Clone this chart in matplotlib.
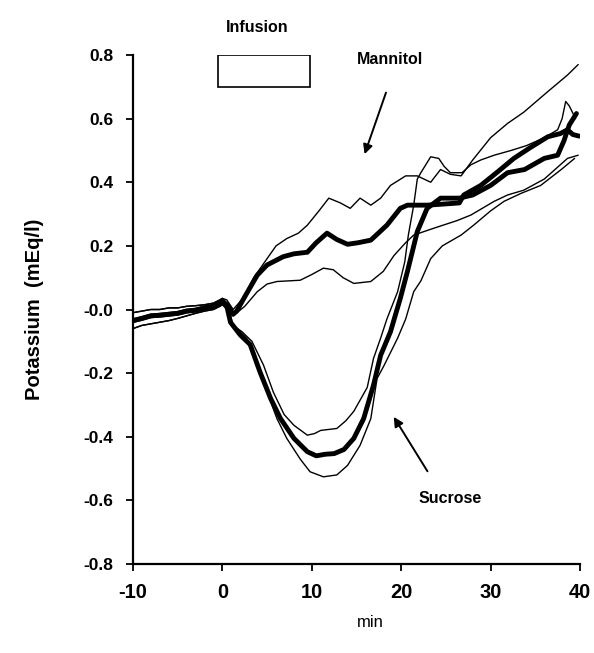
import numpy as np
import matplotlib
matplotlib.use('Agg')
from matplotlib import pyplot as plt
from matplotlib.patches import Rectangle

plt.rcParams['font.family'] = ['Liberation Sans', 'DejaVu Sans']

# pre-infusion baseline (min), shared by all six traces
base_t = [-10, -9, -8, -7, -6, -5, -4, -3, -2, -1, -0.3, 0]
base_up = [-0.01, -0.005, 0.0, 0.0, 0.005, 0.005, 0.01, 0.012, 0.015, 0.02, 0.03, 0.035]
base_mean = [-0.035, -0.028, -0.02, -0.018, -0.015, -0.012, -0.005, -0.002, 0.005, 0.01, 0.02, 0.025]
base_low = [-0.06, -0.05, -0.045, -0.04, -0.035, -0.028, -0.02, -0.012, -0.005, 0.0, 0.01, 0.015]

# Mannitol, mean and +/- SE
man_mean_t = [0.5, 1.2, 1.6, 2.5, 3.9, 5.0, 6.8, 8.0, 9.5, 10.5, 11.7, 12.8, 14.0, 15.2, 16.6, 18.4, 19.9, 20.7,
              22.9, 24.0, 26.5, 27.0, 28.9, 30.8, 32.6, 34.5, 36.4, 37.8, 38.6, 39.2, 39.9]
man_mean_k = [0.015, -0.015, -0.005, 0.04, 0.108, 0.14, 0.166, 0.175, 0.18, 0.21, 0.24, 0.22, 0.205, 0.21, 0.218,
              0.265, 0.318, 0.328, 0.328, 0.33, 0.335, 0.36, 0.39, 0.433, 0.475, 0.51, 0.543, 0.553, 0.565, 0.55, 0.545]
man_up_t = [0.5, 1.2, 2.3, 3.5, 5.0, 6.0, 7.2, 8.5, 9.5, 10.8, 11.9, 13.2, 14.3, 15.4, 16.6, 17.7, 18.8, 20.5,
            21.8, 23.3, 24.4, 25.5, 26.7, 28.0, 30.0, 31.9, 33.7, 36.4, 38.6, 39.8]
man_up_k = [0.03, 0.0, 0.035, 0.1, 0.16, 0.2, 0.223, 0.24, 0.265, 0.31, 0.35, 0.335, 0.318, 0.35, 0.328, 0.35,
            0.39, 0.42, 0.42, 0.40, 0.44, 0.425, 0.42, 0.47, 0.54, 0.585, 0.62, 0.685, 0.737, 0.77]
man_low_t = [0.5, 1.2, 2.5, 3.9, 5.0, 6.1, 8.7, 10.0, 11.3, 12.4, 13.5, 14.7, 16.6, 18.0, 19.2, 20.5, 21.4, 23.6,
             26.3, 27.8, 30.4, 31.9, 33.7, 36.0, 38.6, 39.8]
man_low_k = [0.01, -0.02, 0.01, 0.056, 0.08, 0.088, 0.092, 0.11, 0.13, 0.125, 0.1, 0.082, 0.088, 0.12, 0.17, 0.21,
             0.234, 0.255, 0.28, 0.297, 0.34, 0.36, 0.375, 0.41, 0.475, 0.485]

# Sucrose, mean and +/- SE
suc_mean_t = [0.5, 0.9, 2.0, 3.1, 4.2, 5.4, 6.5, 8.0, 9.5, 10.5, 11.5, 12.5, 13.6, 14.7, 15.8, 16.9, 17.7, 18.8,
              19.9, 20.7, 21.8, 22.9, 24.4, 26.5, 28.0, 30.0, 31.9, 33.8, 36.0, 37.5, 38.2, 38.8, 39.6]
suc_mean_k = [0.01, -0.04, -0.08, -0.11, -0.196, -0.28, -0.343, -0.405, -0.447, -0.46, -0.455, -0.453, -0.44,
              -0.405, -0.343, -0.238, -0.144, -0.07, 0.035, 0.12, 0.245, 0.318, 0.35, 0.35, 0.36, 0.39, 0.43, 0.44,
              0.475, 0.485, 0.53, 0.58, 0.616]
suc_up_t = [0.5, 1.2, 2.2, 3.3, 4.6, 5.7, 6.9, 8.0, 9.5, 10.3, 11.0, 12.8, 13.8, 14.7, 16.2, 16.9, 17.7, 18.4,
            19.6, 20.4, 20.8, 21.4, 21.8, 22.2, 23.3, 24.2, 24.8, 25.5, 26.8, 27.8, 28.9, 30.4, 32.3, 34.0, 36.0,
            37.5, 38.0, 38.4, 38.8, 39.5]
suc_up_k = [0.02, -0.05, -0.07, -0.1, -0.175, -0.26, -0.33, -0.364, -0.395, -0.39, -0.38, -0.374, -0.35, -0.32,
            -0.245, -0.154, -0.09, -0.03, 0.056, 0.15, 0.234, 0.328, 0.41, 0.43, 0.48, 0.475, 0.45, 0.43, 0.43,
            0.455, 0.47, 0.485, 0.50, 0.515, 0.54, 0.565, 0.6, 0.654, 0.64, 0.60]
suc_low_t = [0.5, 0.9, 2.7, 3.9, 5.0, 6.1, 7.2, 8.7, 9.8, 11.3, 12.8, 14.0, 15.4, 16.6, 17.3, 18.1, 19.6, 20.5,
             21.4, 22.2, 23.3, 24.6, 26.7, 28.1, 30.0, 31.5, 33.4, 35.6, 37.9, 39.4]
suc_low_k = [0.0, -0.04, -0.09, -0.165, -0.26, -0.343, -0.405, -0.47, -0.51, -0.526, -0.52, -0.49, -0.427,
             -0.343, -0.217, -0.175, -0.09, -0.03, 0.056, 0.09, 0.16, 0.2, 0.234, 0.265, 0.31, 0.34, 0.365, 0.39,
             0.44, 0.475]

yticks = [0.8, 0.6, 0.4, 0.2, 0.0, -0.2, -0.4, -0.6, -0.8]
ytick_labels = ['0.8', '0.6', '0.4', '0.2', '-0.0', '-0.2', '-0.4', '-0.6', '-0.8']
xticks = [-10, 0, 10, 20, 30, 40]
xtick_labels = ['-10', '0', '10', '20', '30', '40']

fig = plt.figure(figsize=(5.94, 6.53), dpi=100)
ax = fig.add_axes([133 / 594, 1 - 564 / 653, 447 / 594, 509 / 653])

thin = 1.0
thick = 3.5
traces = [(man_up_t, man_up_k, base_up, thin), (man_low_t, man_low_k, base_low, thin),
          (man_mean_t, man_mean_k, base_mean, thick),
          (suc_up_t, suc_up_k, base_up, thin), (suc_low_t, suc_low_k, base_low, thin),
          (suc_mean_t, suc_mean_k, base_mean, thick)]
for tt, kk, bb, lw in traces:
    ax.plot(list(base_t) + list(tt), list(bb) + list(kk), color='black', lw=lw,
            solid_joinstyle='round', solid_capstyle='round')

# infusion bar
ax.add_patch(Rectangle((-0.5, 0.70), 10.3, 0.10, facecolor='white', edgecolor='black', lw=1.2, zorder=3))
ax.text(3.9, 0.885, 'Infusion', ha='center', va='center', fontsize=11.5, fontweight='bold', clip_on=False)

ax.text(18.8, 0.785, 'Mannitol', ha='center', va='center', fontsize=11.5, fontweight='bold')
ax.annotate('', xy=(15.8, 0.48), xytext=(18.4, 0.69),
            arrowprops=dict(arrowstyle='-|>', color='black', lw=1.4, mutation_scale=14))
ax.text(25.5, -0.594, 'Sucrose', ha='center', va='center', fontsize=11.5, fontweight='bold')
ax.annotate('', xy=(19.0, -0.33), xytext=(23.1, -0.516),
            arrowprops=dict(arrowstyle='-|>', color='black', lw=1.4, mutation_scale=14))

ax.set_xlim(-10, 40)
ax.set_ylim(-0.8, 0.8)
ax.set_xticks(xticks)
ax.set_xticklabels(xtick_labels, fontsize=14.5, fontweight='bold')
ax.set_yticks(yticks)
ax.set_yticklabels(ytick_labels, fontsize=12.5, fontweight='bold')
ax.tick_params(axis='x', direction='out', length=5, width=1.3, pad=9)
ax.tick_params(axis='y', direction='out', length=5, width=1.3, pad=9)
for side in ['top', 'right']:
    ax.spines[side].set_visible(False)
for side in ['left', 'bottom']:
    ax.spines[side].set_linewidth(1.6)

ax.set_ylabel('Potassium  (mEq/l)', fontsize=14.5, fontweight='bold')
ax.yaxis.set_label_coords(-0.2, 0.5)
ax.set_xlabel('min', fontsize=12)
ax.xaxis.set_label_coords(0.53, -0.1)

fig.savefig('out.png', dpi=100)
